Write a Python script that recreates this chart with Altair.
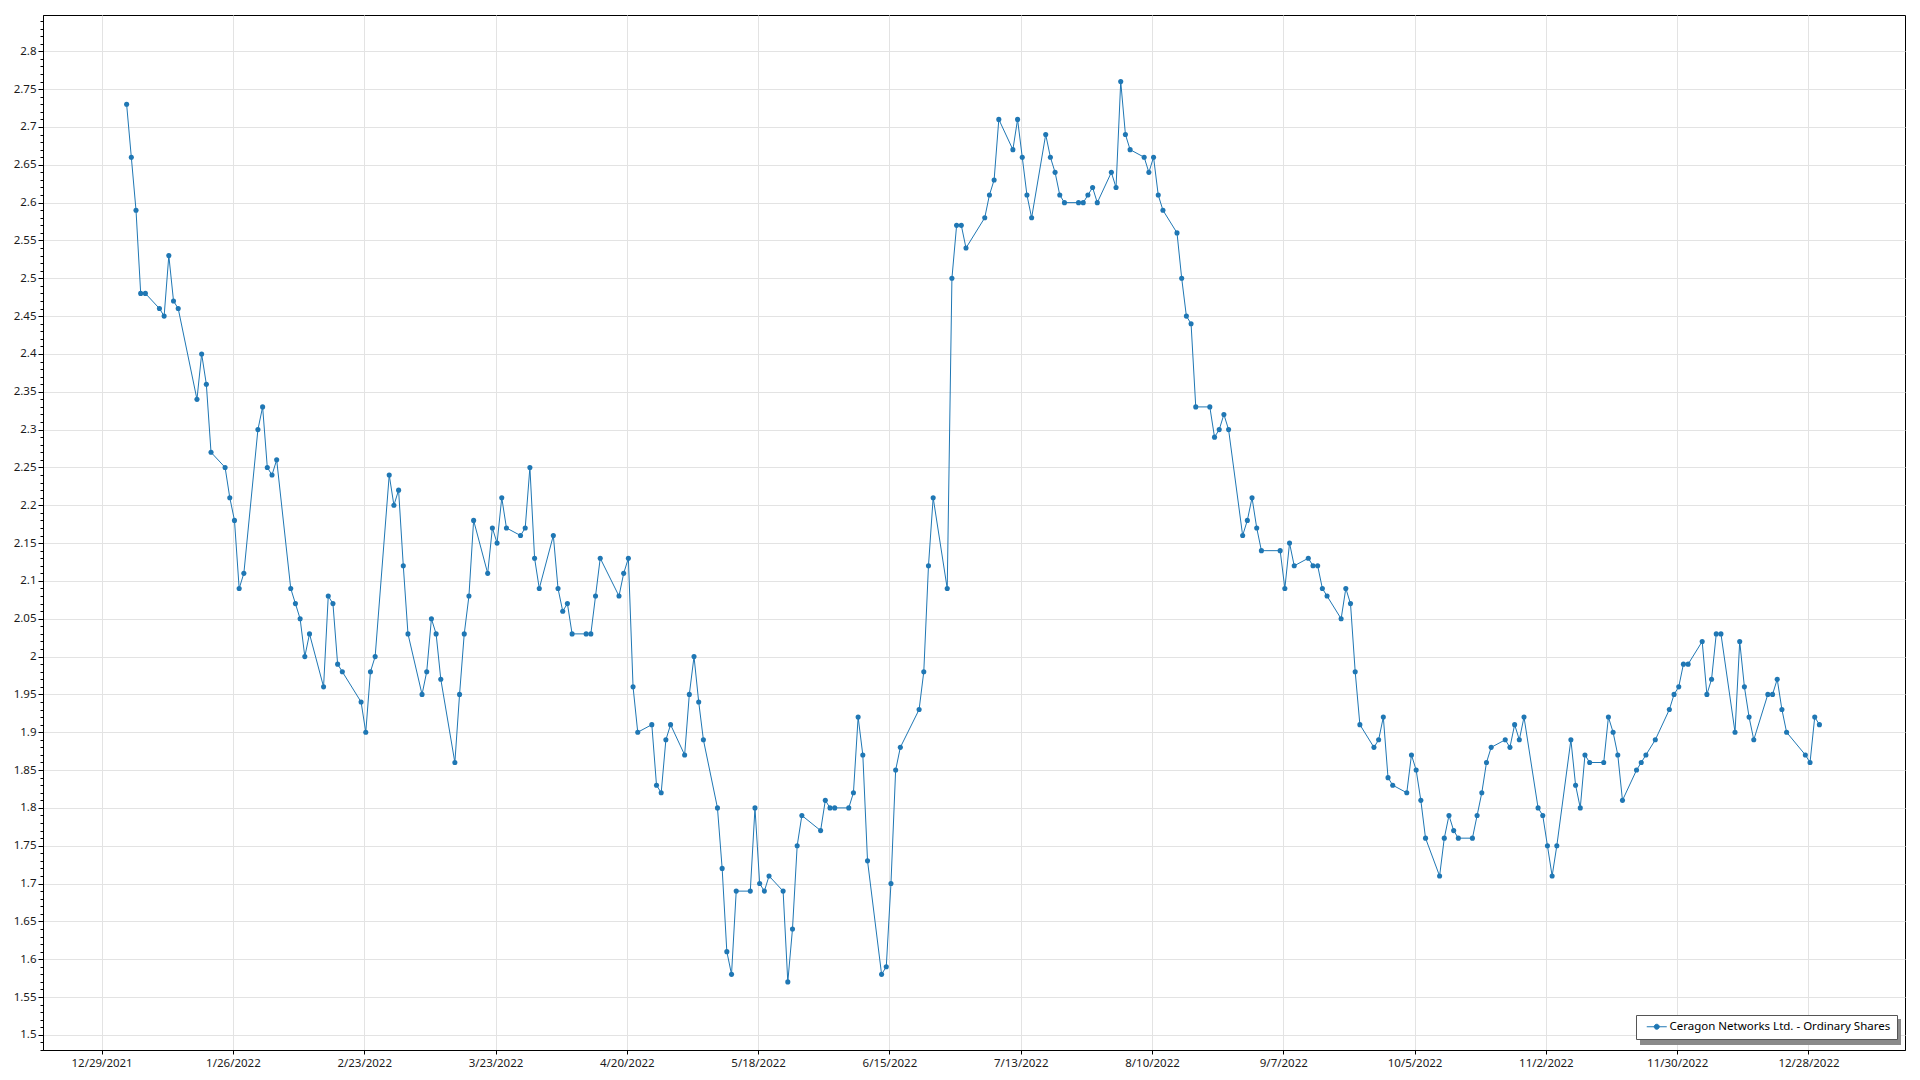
import altair as alt
import pandas as pd

SERIES = "Ceragon Networks Ltd. - Ordinary Shares"
HOLIDAYS = ["2022-01-17", "2022-02-21", "2022-04-15", "2022-05-30", "2022-06-20",
            "2022-07-04", "2022-09-05", "2022-11-24", "2022-12-26"]

jan = [2.73, 2.66, 2.59, 2.48, 2.48, 2.46, 2.45, 2.53, 2.47, 2.46, 2.34, 2.40, 2.36, 2.27,
       2.25, 2.21, 2.18, 2.09, 2.11, 2.30]
feb = [2.33, 2.25, 2.24, 2.26, 2.09, 2.07, 2.05, 2.00, 2.03, 1.96, 2.08, 2.07, 1.99, 1.98,
       1.94, 1.90, 1.98, 2.00, 2.24]
mar = [2.20, 2.22, 2.12, 2.03, 1.95, 1.98, 2.05, 2.03, 1.97, 1.86, 1.95, 2.03, 2.08, 2.18,
       2.11, 2.17, 2.15, 2.21, 2.17, 2.16, 2.17, 2.25, 2.13]
apr = [2.09, 2.16, 2.09, 2.06, 2.07, 2.03, 2.03, 2.03, 2.08, 2.13, 2.08, 2.11, 2.13, 1.96,
       1.90, 1.91, 1.83, 1.82, 1.89, 1.91]
may = [1.87, 1.95, 2.00, 1.94, 1.89, 1.80, 1.72, 1.61, 1.58, 1.69, 1.69, 1.80, 1.70, 1.69,
       1.71, 1.69, 1.57, 1.64, 1.75, 1.79, 1.77]
jun = [1.81, 1.80, 1.80, 1.80, 1.82, 1.92, 1.87, 1.73, 1.58, 1.59, 1.70, 1.85, 1.88, 1.93,
       1.98, 2.12, 2.21, 2.09, 2.50, 2.57, 2.57]
jul = [2.54, 2.58, 2.61, 2.63, 2.71, 2.67, 2.71, 2.66, 2.61, 2.58, 2.69, 2.66, 2.64, 2.61,
       2.60, 2.60, 2.60, 2.61, 2.62, 2.60]
aug = [2.64, 2.62, 2.76, 2.69, 2.67, 2.66, 2.64, 2.66, 2.61, 2.59, 2.56, 2.50, 2.45, 2.44,
       2.33, 2.33, 2.29, 2.30, 2.32, 2.30, 2.16, 2.18, 2.21]
sep = [2.17, 2.14, 2.14, 2.09, 2.15, 2.12, 2.13, 2.12, 2.12, 2.09, 2.08, 2.05, 2.09, 2.07,
       1.98, 1.91, 1.88, 1.89, 1.92, 1.84, 1.83]
oct_ = [1.82, 1.87, 1.85, 1.81, 1.76, 1.71, 1.76, 1.79, 1.77, 1.76, 1.76, 1.79, 1.82, 1.86,
        1.88, 1.89, 1.88, 1.91, 1.89, 1.92, 1.80]
nov = [1.79, 1.75, 1.71, 1.75, 1.89, 1.83, 1.80, 1.87, 1.86, 1.86, 1.92, 1.90, 1.87, 1.81,
       1.85, 1.86, 1.87, 1.89, 1.93, 1.95, 1.96]
dec = [1.99, 1.99, 2.02, 1.95, 1.97, 2.03, 2.03, 1.90, 2.02, 1.96, 1.92, 1.89, 1.95, 1.95,
       1.97, 1.93, 1.90, 1.87, 1.86, 1.92, 1.91]

prices = jan + feb + mar + apr + may + jun + jul + aug + sep + oct_ + nov + dec
dates = pd.bdate_range("2022-01-03", "2022-12-30", freq="C", holidays=HOLIDAYS)
assert len(dates) == len(prices)

df = pd.DataFrame({
    "date": dates.strftime("%Y-%m-%dT08:00:00"),
    "price": prices,
    "series": SERIES,
})

# x tick dates (every 28 days)
x_ticks = [(2021, 12, 29), (2022, 1, 26), (2022, 2, 23), (2022, 3, 23), (2022, 4, 20),
           (2022, 5, 18), (2022, 6, 15), (2022, 7, 13), (2022, 8, 10), (2022, 9, 7),
           (2022, 10, 5), (2022, 11, 2), (2022, 11, 30), (2022, 12, 28)]
x_tick_values = [alt.DateTime(year=y, month=m, date=d) for (y, m, d) in x_ticks]
y_tick_values = [round(1.48 + 0.01 * i, 2) for i in range(137)]

MAJOR = "abs(datum.value*20 - round(datum.value*20)) < 0.001"
FONT = "Noto Sans"
BLUE = "#1f77b4"

x_enc = alt.X(
    "date:T",
    scale=alt.Scale(domain=[alt.DateTime(year=2021, month=12, date=16, hours=12),
                            alt.DateTime(year=2023, month=1, date=17, hours=14)]),
    axis=alt.Axis(values=x_tick_values, format="%-m/%-d/%Y", title=None,
                  grid=True, gridColor="#e3e3e3", tickSize=4, tickColor="#000",
                  domainColor="#000", labelPadding=3, labelFont=FONT, labelFontSize=11.5,
                  labelColor="#1a1a1a", labelOverlap=False, labelFlush=False),
)
y_enc = alt.Y(
    "price:Q",
    scale=alt.Scale(domain=[1.48, 2.848], nice=False, zero=False),
    axis=alt.Axis(values=y_tick_values, title=None, grid=True, gridColor="#e3e3e3",
                  gridOpacity={"condition": {"test": MAJOR, "value": 1}, "value": 0},
                  tickSize={"condition": {"test": MAJOR, "value": 5}, "value": 3},
                  tickColor="#000", domainColor="#000", labelPadding=2,
                  labelExpr=MAJOR + " ? format(datum.value, '~g') : ''",
                  labelOverlap=False, labelFont=FONT, labelFontSize=11.5,
                  labelColor="#1a1a1a"),
)

color_enc = alt.Color(
    "series:N",
    scale=alt.Scale(range=[BLUE]),
    legend=alt.Legend(
        title=None, orient="none", legendX=1593, legendY=1000,
        fillColor="white", strokeColor="#555555", padding=6, cornerRadius=0,
        labelFont=FONT, labelFontSize=11.5, labelColor="#000", labelLimit=0,
        symbolType="M-2,0L2,0M-0.5,0A0.5,0.5,0,1,1,0.5,0A0.5,0.5,0,1,1,-0.5,0Z",
        symbolSize=100, symbolStrokeWidth=1, symbolFillColor=BLUE,
        symbolStrokeColor=BLUE, symbolOffset=9, labelOffset=7,
    ),
)

line = alt.Chart(df).mark_line(strokeWidth=1, color=BLUE).encode(x=x_enc, y=y_enc)
points = alt.Chart(df).mark_circle(size=26, opacity=1).encode(
    x=x_enc, y=y_enc, color=color_enc)

# drop shadow behind the legend box
shadow = alt.Chart(pd.DataFrame({"s": [0]})).mark_rect(color="#8a8a8a").encode(
    x=alt.value(1597), x2=alt.value(1858), y=alt.value(1004), y2=alt.value(1030))

chart = alt.layer(line, points, shadow).properties(
    width=1862, height=1035,
    padding={"left": 35, "top": 7, "right": 7, "bottom": 24},
    autosize=alt.AutoSizeParams(type="none"),
    background="white",
).configure_view(stroke="#000", strokeWidth=1)

chart.save("out.html", embed_options={"renderer": "svg", "actions": False})
